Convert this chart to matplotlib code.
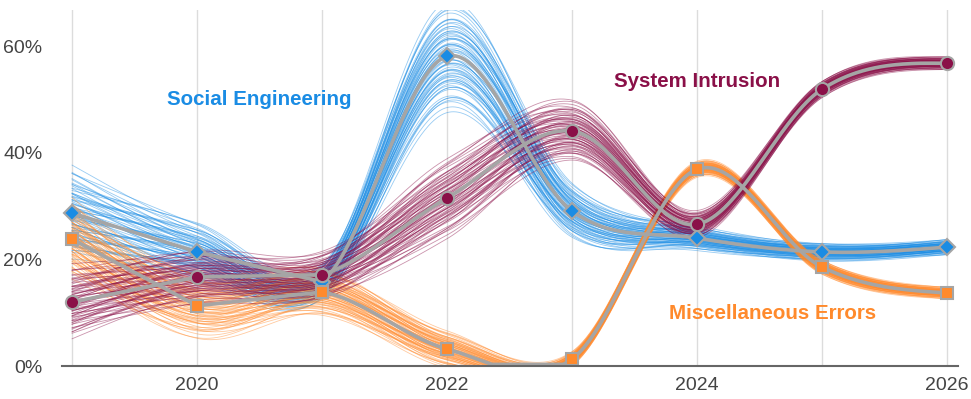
import numpy as np
import matplotlib.pyplot as plt

years = [2019, 2020, 2021, 2022, 2023, 2024, 2025, 2026]

social = [28.7, 21.4, 15.8, 58.1, 29.1, 24.0, 21.4, 22.3]
intrusion = [12.0, 16.7, 17.1, 31.5, 44.1, 26.6, 51.9, 56.8]
misc = [23.8, 11.3, 13.9, 3.2, 1.3, 36.9, 18.6, 13.7]

# half-width of the bundle of thin lines around each point
social_spread = [7.5, 5.0, 3.0, 9.0, 4.5, 2.0, 1.5, 1.3]
intrusion_spread = [6.0, 4.5, 4.0, 6.5, 5.0, 2.2, 1.4, 1.1]
misc_spread = [6.5, 5.5, 4.0, 3.0, 1.2, 1.3, 1.2, 1.0]

blue = '#1a8ce4'
purple = '#8a1048'
orange = '#ff8a2c'
gray = '#a5a5a5'


def smooth(x, y, xs):
    # catmull-rom style cubic with natural end tangents
    x = np.asarray(x, float)
    y = np.asarray(y, float)
    h = np.diff(x)
    d = np.diff(y) / h
    m = np.zeros_like(y)
    m[1:-1] = (y[2:] - y[:-2]) / (x[2:] - x[:-2])
    m[0] = 1.5 * d[0] - 0.5 * m[1]
    m[-1] = 1.5 * d[-1] - 0.5 * m[-2]
    idx = np.clip(np.searchsorted(x, xs) - 1, 0, len(x) - 2)
    t = (xs - x[idx]) / h[idx]
    h00 = 2 * t**3 - 3 * t**2 + 1
    h10 = t**3 - 2 * t**2 + t
    h01 = -2 * t**3 + 3 * t**2
    h11 = t**3 - t**2
    return (h00 * y[idx] + h10 * h[idx] * m[idx]
            + h01 * y[idx + 1] + h11 * h[idx] * m[idx + 1])


xs = np.linspace(years[0], years[-1], 700)
n_lines = 70
j = np.arange(len(years))

fig = plt.figure(figsize=(9.71, 3.99), dpi=100)
ax = fig.add_axes([0.0639, 0.0827, 0.9227, 0.8923])

for vals, spread, col in [(social, social_spread, blue),
                          (misc, misc_spread, orange),
                          (intrusion, intrusion_spread, purple)]:
    vals = np.array(vals)
    spread = np.array(spread)
    for i in range(n_lines):
        base = -0.85 + 1.7 * i / (n_lines - 1)
        f = base + 0.35 * np.sin(i * 2.39 + j * 1.7)
        ys = np.maximum(smooth(years, vals + f * spread, xs), 0)
        ax.plot(xs, ys, color=col, lw=0.6, alpha=0.45, zorder=2)

# center line: straight up to 2021, curved afterwards
for vals, col, mk, ms in [(social, blue, 'D', 8),
                          (misc, orange, 's', 8),
                          (intrusion, purple, 'o', 9.5)]:
    left = xs <= 2021
    ys = np.where(left, np.interp(xs, years, vals), smooth(years, vals, xs))
    ys = np.maximum(ys, 0.3)
    ax.plot(xs, ys, color=gray, lw=2.6, zorder=3, solid_capstyle='round')
    ax.plot(years, vals, mk, color=col, ms=ms, mec=gray, mew=1.5, zorder=4)

ax.set_xlim(2018.92, 2026.09)
ax.set_ylim(0, 66.8)
for yr in years:
    ax.axvline(yr, color='#dcdcdc', lw=1, zorder=0)

for s in ['top', 'right', 'left']:
    ax.spines[s].set_visible(False)
ax.spines['bottom'].set_color('#666666')
ax.spines['bottom'].set_linewidth(1.5)
ax.spines['bottom'].set_zorder(5)

ax.set_xticks([2020, 2022, 2024, 2026])
ax.set_xticklabels(['2020', '2022', '2024', '2026'])
ax.set_yticks([0, 20, 40, 60])
ax.set_yticklabels(['0%', '20%', '40%', '60%'])
ax.tick_params(length=0, labelsize=14, labelcolor='#444444')
ax.tick_params(axis='y', pad=14)
ax.tick_params(axis='x', pad=8)
for lab in ax.get_xticklabels() + ax.get_yticklabels():
    lab.set_fontfamily('Liberation Sans')

ax.text(2020.5, 50.0, 'Social Engineering', color=blue, fontsize=14.8,
        fontweight='bold', family='Liberation Sans', ha='center', va='center')
ax.text(2024.0, 53.4, 'System Intrusion', color=purple, fontsize=14.8,
        fontweight='bold', family='Liberation Sans', ha='center', va='center')
ax.text(2024.61, 9.9, 'Miscellaneous Errors', color=orange, fontsize=14.8,
        fontweight='bold', family='Liberation Sans', ha='center', va='center')

plt.savefig('out.png', dpi=100)
